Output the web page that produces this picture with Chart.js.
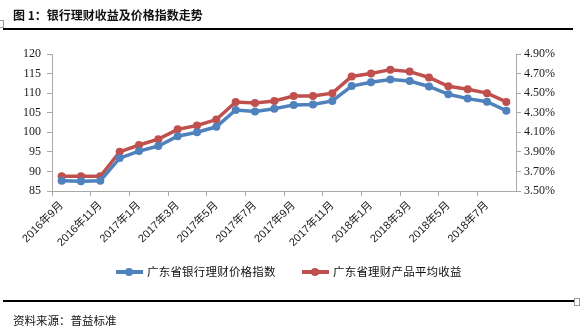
<!DOCTYPE html>
<html lang="zh-CN">
<head>
<meta charset="utf-8">
<title>银行理财收益及价格指数走势</title>
<script src="https://cdn.jsdelivr.net/npm/chart.js@4.4.1/dist/chart.umd.min.js"></script>
<style>
  html, body { margin: 0; padding: 0; background: #fff; }
  #page { position: relative; width: 587px; height: 334px; overflow: hidden; font-family: "Noto Sans CJK SC", sans-serif; color: #111; }
  #grafico { position: absolute; left: 0; top: 0; }
  .titulo { position: absolute; left: 13px; top: 6px; font-size: 12px; font-weight: bold; letter-spacing: 0; white-space: nowrap; }
  .regua { position: absolute; left: 3px; height: 0; border-top: 2px solid #000; }
  .fonte { position: absolute; left: 13px; top: 312px; font-size: 11.5px; white-space: nowrap; }
  .legenda { position: absolute; top: 263px; font-size: 11.5px; letter-spacing: 0.2px; white-space: nowrap; }
  .legenda .amostra { position: absolute; top: 7px; width: 27px; height: 4px; }
  .legenda .amostra i { position: absolute; left: 9px; top: -2px; width: 8px; height: 8px; border-radius: 50%; }
  .legenda span { position: absolute; left: 31px; top: 0; }
  .marca { position: absolute; width: 4px; height: 6px; border: 1px solid #9a9a9a; background: #fff; }
</style>
</head>
<body>
<div id="page">
  <canvas id="grafico" width="587" height="334"></canvas>
  <div class="titulo">图 1：银行理财收益及价格指数走势</div>
  <div class="regua" style="top: 28px; width: 570px;"></div>
  <div class="marca" style="left: -2px; top: 20px;"></div>
  <div id="legenda"></div>
  <div class="regua" style="top: 300px; width: 572px;"></div>
  <div class="marca" style="left: 574px; top: 298px;"></div>
  <div class="fonte">资料来源：普益标准</div>
</div>
<script>
// meses de 2016年9月 a 2018年8月
const meses = [
  '2016年9月', '2016年10月', '2016年11月', '2016年12月',
  '2017年1月', '2017年2月', '2017年3月', '2017年4月', '2017年5月', '2017年6月',
  '2017年7月', '2017年8月', '2017年9月', '2017年10月', '2017年11月', '2017年12月',
  '2018年1月', '2018年2月', '2018年3月', '2018年4月', '2018年5月', '2018年6月',
  '2018年7月', '2018年8月'
];

// eixo esquerdo
const indicePreco = [
  87.6, 87.5, 87.6, 93.4, 95.2, 96.5, 99.0, 100.0, 101.4, 105.7, 105.3, 106.0,
  107.0, 107.1, 108.0, 111.8, 112.8, 113.5, 113.1, 111.7, 109.7, 108.6, 107.8, 105.5
];

// eixo direito, em %
const rendimentoMedio = [
  3.65, 3.65, 3.65, 3.90, 3.97, 4.03, 4.13, 4.17, 4.23, 4.41, 4.40, 4.42,
  4.47, 4.47, 4.50, 4.67, 4.70, 4.74, 4.72, 4.66, 4.57, 4.54, 4.50, 4.41
];

const nomesSeries = ['广东省银行理财价格指数', '广东省理财产品平均收益'];
const coresSeries = ['#4f81bd', '#c0504d'];

const corEixo = '#a8a8a8';
const corTexto = '#1a1a1a';

const fonteSerif = { family: '"Liberation Serif", "Times New Roman", serif', size: 12 };
const fonteMeses = { family: '"Liberation Sans", "Noto Sans CJK SC", sans-serif', size: 11 };

function serie(indice, dados, eixo) {
  return {
    label: nomesSeries[indice],
    data: dados,
    yAxisID: eixo,
    borderColor: coresSeries[indice],
    backgroundColor: coresSeries[indice],
    borderWidth: 3.5,
    pointRadius: 4,
    pointBorderWidth: 0,
    pointBackgroundColor: coresSeries[indice],
    tension: 0,
    fill: false
  };
}

const config = {
  type: 'line',
  data: {
    labels: meses,
    datasets: [
      serie(0, indicePreco, 'y'),
      serie(1, rendimentoMedio, 'y1')
    ]
  },
  options: {
    responsive: false,
    animation: false,
    layout: { padding: { top: 54, left: 0, right: 0, bottom: 0 } },
    plugins: {
      legend: { display: false },
      tooltip: { enabled: false }
    },
    scales: {
      x: {
        offset: true,
        grid: {
          offset: true,
          drawOnChartArea: false,
          drawTicks: true,
          tickLength: 5,
          color: ctx => ctx.index % 2 === 0 ? corEixo : 'rgba(0,0,0,0)'
        },
        border: { color: corEixo, width: 1 },
        ticks: {
          autoSkip: false,
          maxRotation: 45,
          minRotation: 45,
          padding: 3,
          color: corTexto,
          font: fonteMeses,
          callback: (v, i) => i % 2 === 0 ? meses[i] : ''
        },
        afterFit: escala => { escala.height = 143; }
      },
      y: {
        position: 'left',
        min: 85,
        max: 120,
        grid: { drawOnChartArea: false, tickLength: 5, color: corEixo },
        border: { color: corEixo, width: 1 },
        ticks: { stepSize: 5, padding: 6, color: corTexto, font: fonteSerif },
        afterFit: escala => { escala.width = 52; }
      },
      y1: {
        position: 'right',
        min: 3.5,
        max: 4.9,
        grid: { drawOnChartArea: false, tickLength: 5, color: corEixo },
        border: { color: corEixo, width: 1 },
        ticks: {
          stepSize: 0.2,
          padding: 3,
          color: corTexto,
          font: fonteSerif,
          callback: v => v.toFixed(2) + '%'
        },
        afterFit: escala => { escala.width = 71; }
      }
    }
  }
};

new Chart(document.getElementById('grafico').getContext('2d'), config);

// legenda desenhada fora do canvas
const elLegenda = document.getElementById('legenda');
const posLegenda = [116, 302];
nomesSeries.forEach((nome, i) => {
  const item = document.createElement('div');
  item.className = 'legenda';
  item.style.left = posLegenda[i] + 'px';
  item.innerHTML = '<div class="amostra" style="background:' + coresSeries[i] + '"><i style="background:' +
    coresSeries[i] + '"></i></div><span>' + nome + '</span>';
  elLegenda.appendChild(item);
});
</script>
</body>
</html>
